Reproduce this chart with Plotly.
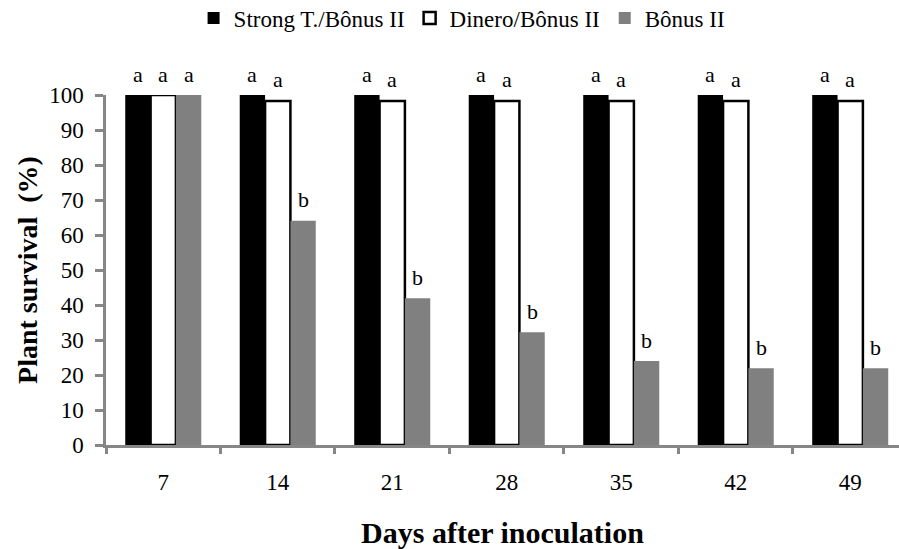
import plotly.graph_objects as go

days = ["7", "14", "21", "28", "35", "42", "49"]
strong = [100, 100, 100, 100, 100, 100, 100]
dinero = [100, 98.3, 98.3, 98.3, 98.3, 98.3, 98.3]
bonus = [100, 64.1, 41.9, 32.2, 24.0, 21.9, 21.9]
strong_letters = ["a"] * 7
dinero_letters = ["a"] * 7
bonus_letters = ["a", "b", "b", "b", "b", "b", "b"]

FONT = "Liberation Serif"
txtfont = dict(family=FONT, size=22, color="black")

fig = go.Figure()
fig.add_trace(go.Bar(x=days, y=strong, name="Strong T./Bônus II",
                     marker=dict(color="black", line=dict(width=0))))
fig.add_trace(go.Bar(x=days, y=dinero, name="Dinero/Bônus II",
                     marker=dict(color="white", line=dict(color="black", width=2.5))))
fig.add_trace(go.Bar(x=days, y=bonus, name="Bônus II",
                     marker=dict(color="#808080", line=dict(width=0))))

BAR_PX = 25.3
for series, letters, shift in [(strong, strong_letters, -BAR_PX),
                               (dinero, dinero_letters, 0),
                               (bonus, bonus_letters, BAR_PX)]:
    for i, (v, t) in enumerate(zip(series, letters)):
        fig.add_annotation(x=i, y=v, xref="x", yref="y", text=t, showarrow=False,
                           xshift=shift, yshift=21, yanchor="middle",
                           font=txtfont)

fig.update_layout(
    template="none",
    width=899, height=549,
    margin=dict(l=106, r=0, t=95, b=104),
    paper_bgcolor="white", plot_bgcolor="white",
    barmode="group", bargap=0.336, bargroupgap=0,
    font=dict(family=FONT, size=23, color="black"),
    showlegend=True,
    legend=dict(orientation="h", x=0.514, xanchor="center", xref="container",
                y=0.967, yanchor="middle", yref="container",
                font=dict(family=FONT, size=23, color="black"),
                itemwidth=30, tracegroupgap=0),
    xaxis=dict(type="category", range=[-0.5, 6.426],
               showline=True, linecolor="#868686", linewidth=2.5,
               ticks="outside", tickson="boundaries", ticklen=6, tickwidth=2.5,
               tickcolor="#868686", ticklabelstandoff=15,
               tickfont=dict(family=FONT, size=23, color="black"),
               showgrid=False, zeroline=False,
               title=dict(text="<b>Days after inoculation</b>", standoff=34,
                          font=dict(family=FONT, size=30, color="black"))),
    yaxis=dict(range=[0, 100], tickvals=list(range(0, 101, 10)),
               showline=True, linecolor="#868686", linewidth=2.5,
               ticks="outside", ticklen=8, tickwidth=2.5, tickcolor="#868686",
               ticklabelstandoff=7,
               tickfont=dict(family=FONT, size=23, color="black"),
               showgrid=False, zeroline=False,
               title=dict(text="<b>Plant survival  (%)</b>", standoff=4,
                          font=dict(family=FONT, size=28, color="black"))),
)

fig.write_html("out.html")
